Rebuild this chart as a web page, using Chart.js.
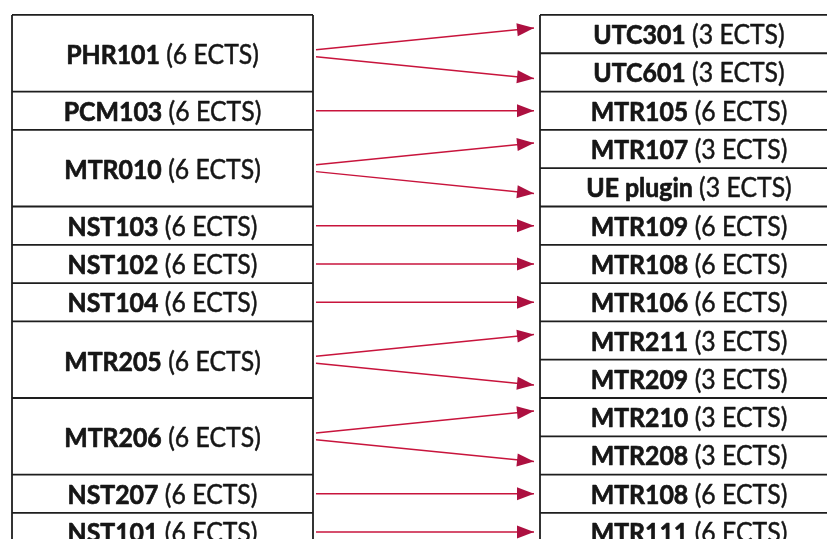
<!DOCTYPE html>
<html>
<head>
<meta charset="utf-8">
<script src="https://cdn.jsdelivr.net/npm/chart.js@4.4.1/dist/chart.umd.min.js"></script>
<style>
  html, body { margin: 0; padding: 0; background: #fff; }
  #wrap { width: 827px; height: 539px; position: relative; }
</style>
</head>
<body>
<div id="wrap"><canvas id="chart"></canvas></div>
<script>
// Modules kiri (lama) -> modules kanan (baru)
const leftCodes = ['PHR101', 'PCM103', 'MTR010', 'NST103', 'NST102', 'NST104', 'MTR205', 'MTR206', 'NST207', 'NST101'];
const leftCredits = [6, 6, 6, 6, 6, 6, 6, 6, 6, 6];
const leftSpans = [2, 1, 2, 1, 1, 1, 2, 2, 1, 1];   // rows occupied
const rightCodes = ['UTC301', 'UTC601', 'MTR105', 'MTR107', 'UE plugin', 'MTR109', 'MTR108',
                    'MTR106', 'MTR211', 'MTR209', 'MTR210', 'MTR208', 'MTR108', 'MTR111'];
const rightCredits = [3, 3, 6, 3, 3, 6, 6, 6, 3, 3, 3, 3, 6, 6];
// [left index, right index]
const links = [[0, 0], [0, 1], [1, 2], [2, 3], [2, 4], [3, 5], [4, 6], [5, 7],
               [6, 8], [6, 9], [7, 10], [7, 11], [8, 12], [9, 13]];

// layout (x in page units, y in rows)
const LEFT_X = [12, 313];
const RIGHT_X = [540, 838];
const ARROW_X = [316, 534];
const LINE_RED = '#c8143c';
const HEAD_RED = '#ad1040';

// start row of each left block
const leftStart = [];
leftSpans.reduce((acc, s, i) => { leftStart[i] = acc; return acc + s; }, 0);
const totalRows = rightCodes.length;

const arrowSets = links.map(([l, r]) => {
  const lc = leftStart[l] + leftSpans[l] / 2;
  const rc = r + 0.5;
  let y0 = lc, y1 = rc;
  if (leftSpans[l] > 1) {
    const sign = (r - leftStart[l]) === 0 ? -1 : 1;
    y0 = lc + sign * 0.09;
    y1 = rc + sign * 0.16;
  }
  return {
    type: 'line',
    data: [{ x: ARROW_X[0], y: y0 }, { x: ARROW_X[1], y: y1 }],
    showLine: true,
    borderColor: LINE_RED,
    borderWidth: 1.5,
    pointRadius: 0,
    fill: false,
    clip: false
  };
});

// teks dipadatkan sedikit supaya mirip Calibri
const SQUEEZE = 0.92;
function drawLabel(ctx, code, credits, cx, baseY) {
  const bold = 'bold 27px Lato';
  const reg = '27px Lato';
  const tail = ' (' + credits + ' ECTS)';
  ctx.font = bold;
  const w1 = ctx.measureText(code).width;
  ctx.font = reg;
  const w2 = ctx.measureText(tail).width;
  ctx.save();
  ctx.translate(cx, baseY);
  ctx.scale(SQUEEZE, 1);
  const x0 = -(w1 + w2) / 2;
  ctx.textBaseline = 'alphabetic';
  ctx.textAlign = 'left';
  ctx.fillStyle = '#161616';
  ctx.strokeStyle = '#161616';
  ctx.lineJoin = 'round';
  ctx.font = bold;
  ctx.lineWidth = 0.7;
  ctx.fillText(code, x0, 0);
  ctx.strokeText(code, x0, 0);
  ctx.font = reg;
  ctx.lineWidth = 0.5;
  ctx.fillText(tail, x0 + w1, 0);
  ctx.strokeText(tail, x0 + w1, 0);
  ctx.restore();
}

const tablePlugin = {
  id: 'tables',
  beforeDatasetsDraw(chart) {
    const { ctx, scales: { x, y } } = chart;
    ctx.save();
    ctx.strokeStyle = '#1e1e1e';
    ctx.lineWidth = 1.8;
    const hline = (xa, xb, row) => {
      ctx.beginPath();
      ctx.moveTo(x.getPixelForValue(xa), y.getPixelForValue(row));
      ctx.lineTo(x.getPixelForValue(xb), y.getPixelForValue(row));
      ctx.stroke();
    };
    const vline = (xv) => {
      ctx.beginPath();
      ctx.moveTo(x.getPixelForValue(xv), y.getPixelForValue(0));
      ctx.lineTo(x.getPixelForValue(xv), y.getPixelForValue(totalRows));
      ctx.stroke();
    };
    // kiri
    leftStart.forEach(s => hline(LEFT_X[0], LEFT_X[1], s));
    hline(LEFT_X[0], LEFT_X[1], totalRows);
    vline(LEFT_X[0]); vline(LEFT_X[1]);
    // kanan
    for (let r = 0; r <= totalRows; r++) hline(RIGHT_X[0], RIGHT_X[1], r);
    vline(RIGHT_X[0]); vline(RIGHT_X[1]);

    leftCodes.forEach((c, i) => {
      const extra = leftSpans[i] > 1 ? 11 : 10;
      drawLabel(ctx, c, leftCredits[i],
        x.getPixelForValue((LEFT_X[0] + LEFT_X[1]) / 2),
        y.getPixelForValue(leftStart[i] + leftSpans[i] / 2) + extra);
    });
    rightCodes.forEach((c, i) => {
      drawLabel(ctx, c, rightCredits[i],
        x.getPixelForValue((RIGHT_X[0] + RIGHT_X[1]) / 2),
        y.getPixelForValue(i + 0.5) + 10);
    });
    ctx.restore();
  },
  afterDatasetsDraw(chart) {
    const { ctx } = chart;
    ctx.save();
    ctx.fillStyle = HEAD_RED;
    chart.data.datasets.forEach((ds, i) => {
      const pts = chart.getDatasetMeta(i).data;
      const a = pts[0], b = pts[1];
      const ang = Math.atan2(b.y - a.y, b.x - a.x);
      const len = 17, half = 6.5;
      ctx.save();
      ctx.translate(b.x, b.y);
      ctx.rotate(ang);
      ctx.beginPath();
      ctx.moveTo(0, 0);
      ctx.lineTo(-len, -half);
      ctx.lineTo(-len, half);
      ctx.closePath();
      ctx.fill();
      ctx.restore();
    });
    ctx.restore();
  }
};

new Chart(document.getElementById('chart'), {
  type: 'scatter',
  data: { datasets: arrowSets },
  options: {
    responsive: true,
    maintainAspectRatio: false,
    animation: false,
    layout: { padding: 0 },
    plugins: { legend: { display: false }, tooltip: { enabled: false } },
    scales: {
      x: { type: 'linear', min: 0, max: 827, display: false },
      y: { type: 'linear', min: -0.39, max: 13.68, reverse: true, display: false }
    }
  },
  plugins: [tablePlugin]
});
</script>
</body>
</html>
